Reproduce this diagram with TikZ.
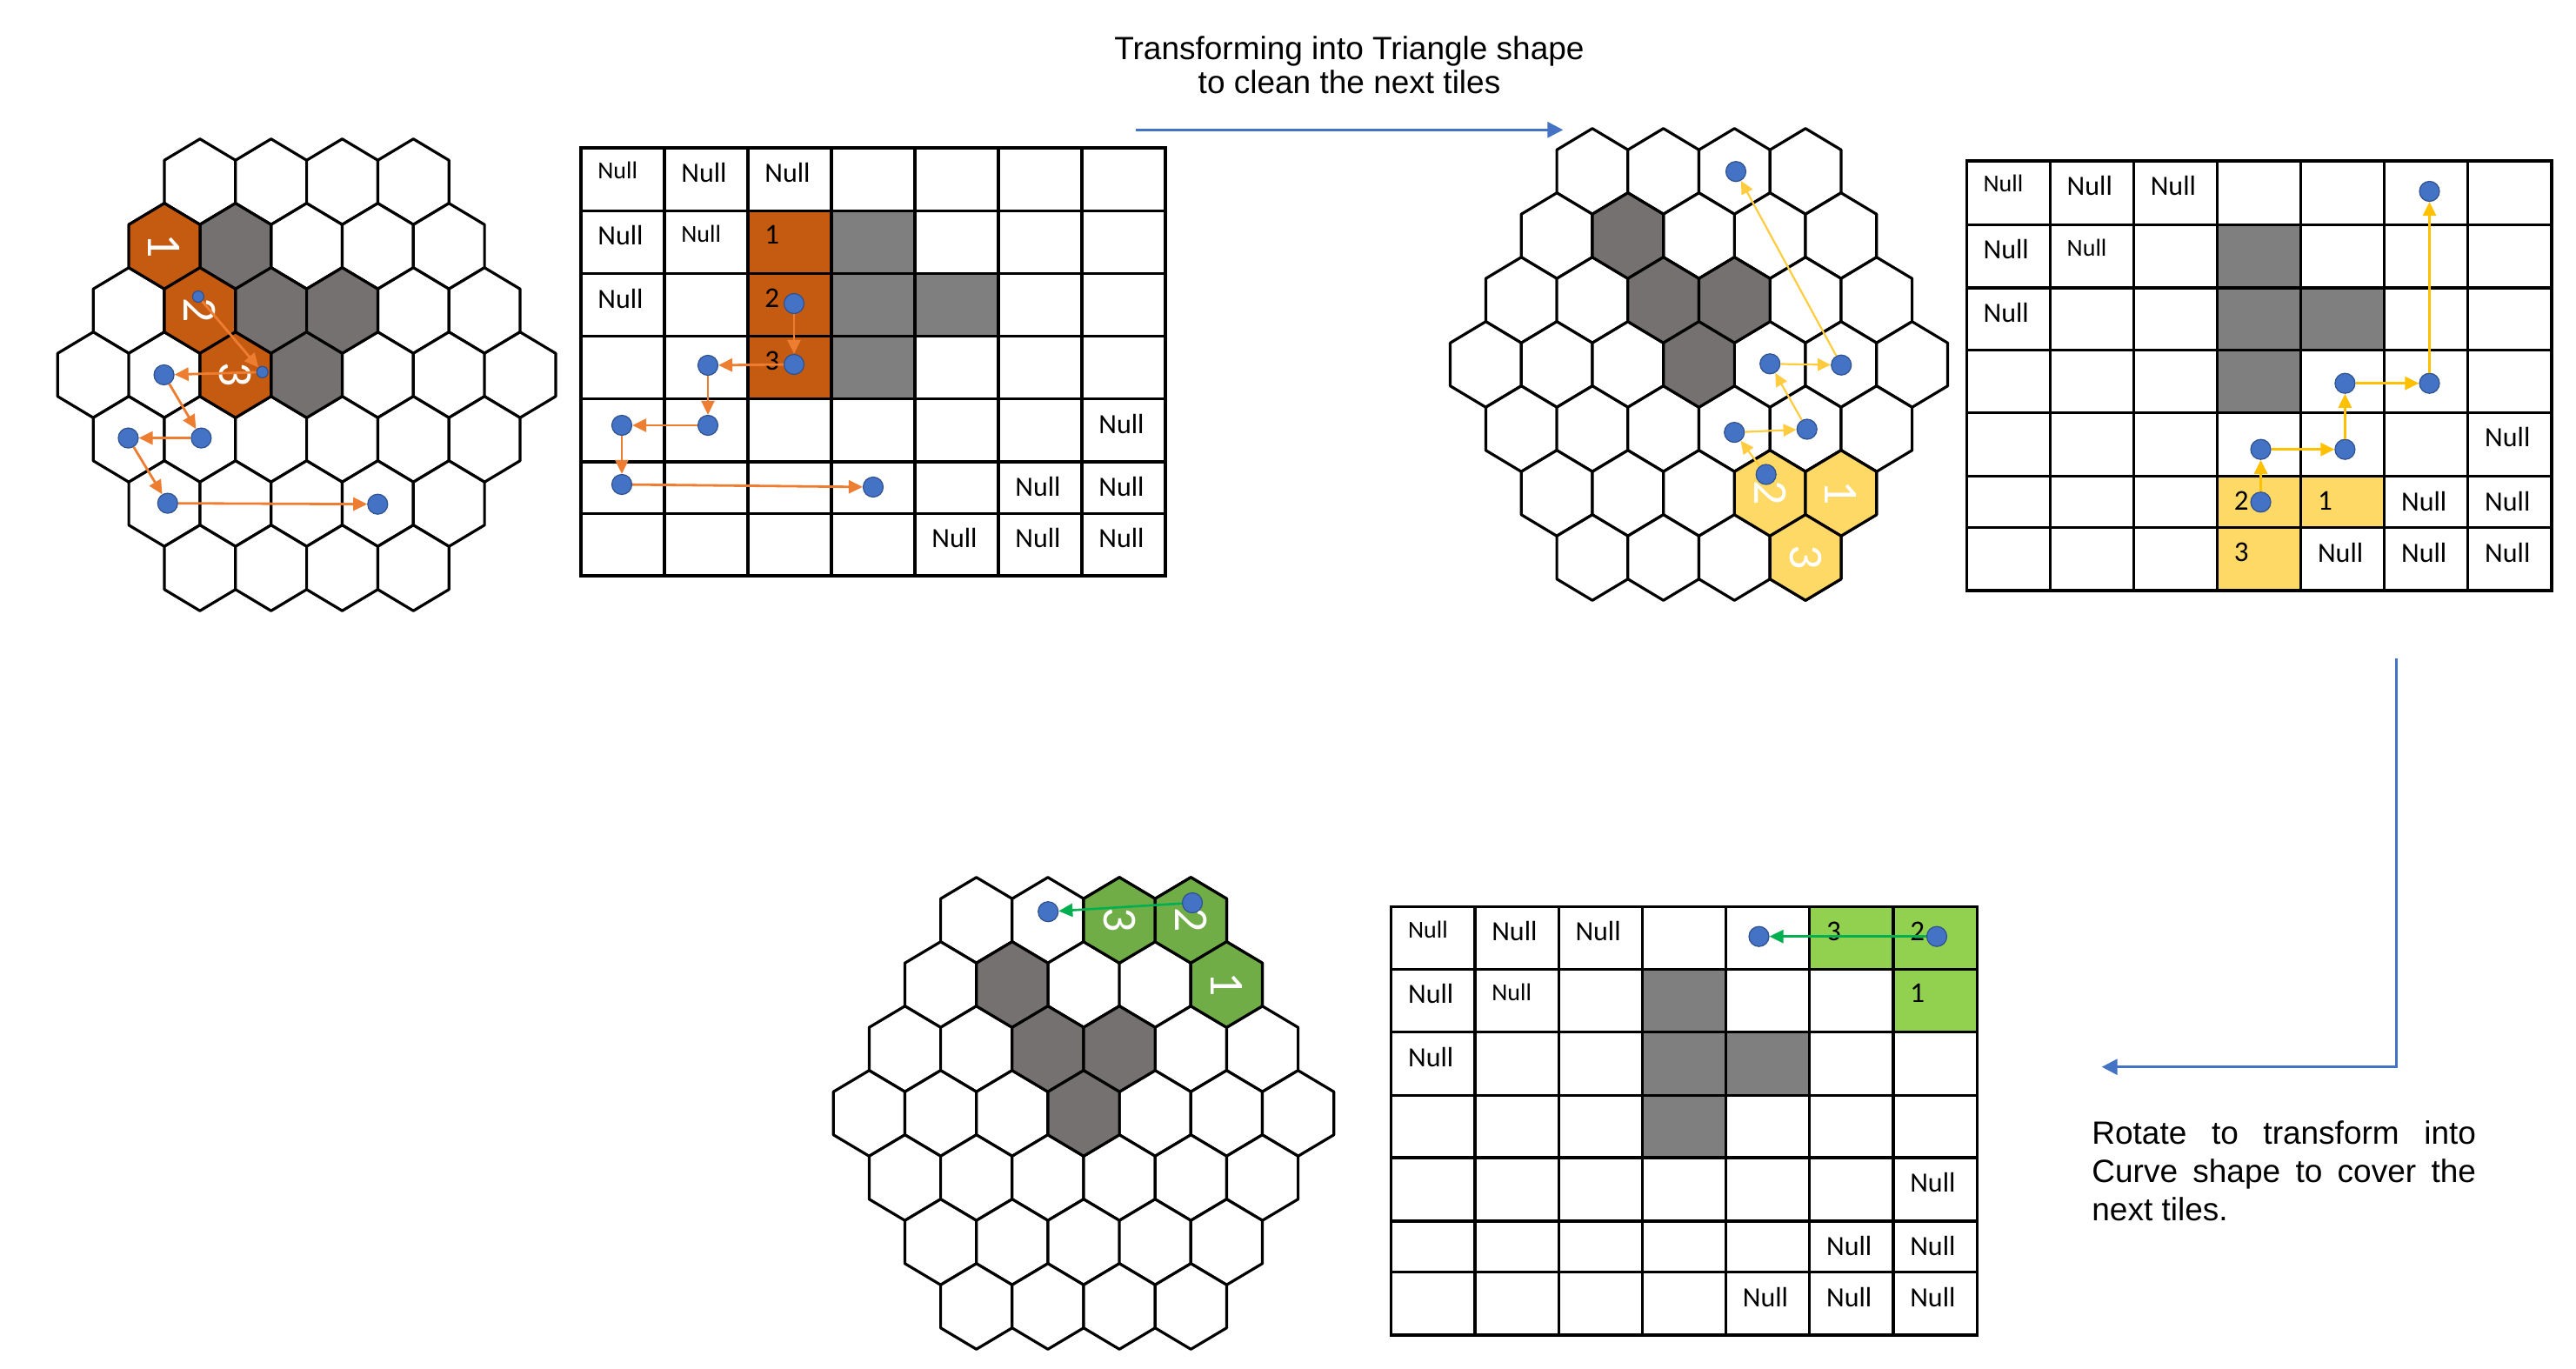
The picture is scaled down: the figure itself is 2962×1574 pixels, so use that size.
\documentclass[tikz,border=0pt]{standalone}
\usepackage{fontspec}
\setmainfont{Liberation Sans}
\newfontfamily\calib{Carlito}
\usetikzlibrary{arrows.meta,calc}

\definecolor{hexgray}{HTML}{767171}
\definecolor{tabgray}{HTML}{7F7F7F}
\definecolor{orangeF}{HTML}{C55A11}
\definecolor{orangeA}{HTML}{ED7D31}
\definecolor{yellowF}{HTML}{FFD966}
\definecolor{yellowA}{HTML}{FFC000}
\definecolor{yellowG}{HTML}{FFCC40}
\definecolor{greenH}{HTML}{70AD47}
\definecolor{greenT}{HTML}{92D050}
\definecolor{greenA}{HTML}{00B050}
\definecolor{dotblue}{HTML}{4472C4}
\definecolor{dotedge}{HTML}{2F528F}

% one hexagon: #1=i, #2=j (axial), #3=style; uses \gcx \gcy \gw \gs \gp
\newcommand\HX[3]{\path[#3] ({\gcx+(#1+(#2)/2)*\gw},{\gcy+(#2)*(\gs+\gp)}) ++(0,{-(\gs/2+\gp)}) -- ++({\gw/2},{\gp}) -- ++(0,{\gs}) -- ++({-\gw/2},{\gp}) -- ++({-\gw/2},{-\gp}) -- ++(0,{-\gs}) -- cycle;}
\newcommand\HC[3]{\coordinate (#1) at ({\gcx+(#2+(#3)/2)*\gw},{\gcy+(#3)*(\gs+\gp)});}
\newcommand\HexGrid{%
  \foreach \j in {-3,...,3}{%
    \foreach \i in {-3,...,3}{%
      \pgfmathtruncatemacro\hk{\i+\j}%
      \ifnum\hk<-3\relax\else\ifnum\hk>3\relax\else\HX{\i}{\j}{hexcell}\fi\fi
    }}}
% table corner coordinates: name-k-m, k = vertical line 0..7, m = horizontal line 1..8
\newcommand\MkTable[4]{%
  \foreach \yy [count=\m] in {#4}{%
    \foreach \k in {0,...,7}{%
      \coordinate (#1-\k-\m) at ({#2+\k*#3},\yy);}}}
\newcommand\TabLines[1]{%
  \foreach \k in {0,...,7}{\draw[tabline] (#1-\k-1) -- (#1-\k-8);}
  \foreach \m in {1,...,8}{\draw[tabline] (#1-0-\m) -- (#1-7-\m);}}
\newcommand\NB[3]{\node[nullbig] (#1-n#2-#3) at ($(#1-#2-#3)+(19,17)$) {Null};}
\newcommand\NS[3]{\node[nullsmall] (#1-n#2-#3) at ($(#1-#2-#3)+(19,16)$) {Null};}
\newcommand\CN[4]{\node[cellnum] (#1-d#2-#3) at ($(#1-#2-#3)+(19,17)$) {#4};}
\newcommand\AllNulls[1]{%
  \NS{#1}{0}{1}\NB{#1}{1}{1}\NB{#1}{2}{1}
  \NB{#1}{0}{2}\NS{#1}{1}{2}
  \NB{#1}{0}{3}
  \NB{#1}{6}{5}
  \NB{#1}{5}{6}\NB{#1}{6}{6}
  \NB{#1}{4}{7}\NB{#1}{5}{7}\NB{#1}{6}{7}}
\newcommand\GrayCells[1]{%
  \fill[tabgray] (#1-3-2) rectangle (#1-4-3);
  \fill[tabgray] (#1-3-3) rectangle (#1-4-4);
  \fill[tabgray] (#1-4-3) rectangle (#1-5-4);
  \fill[tabgray] (#1-3-4) rectangle (#1-4-5);}

\begin{document}
\begin{tikzpicture}[x=0.5pt,y=-0.5pt,
  hexcell/.style={draw=black,line width=1.6pt,fill=white,line join=round},
  hexg/.style={hexcell,fill=hexgray},
  hexo/.style={hexcell,fill=orangeF},
  hexy/.style={hexcell,fill=yellowF},
  hexgr/.style={hexcell,fill=greenH},
  hexnum/.style={text=white,rotate=-90,inner sep=0pt,font=\calib\fontsize{28}{30}\selectfont},
  tabline/.style={draw=black,line width=1.6pt,line cap=rect},
  nullbig/.style={anchor=north west,inner sep=0pt,font=\calib\fontsize{16}{19}\selectfont},
  nullsmall/.style={anchor=north west,inner sep=0pt,font=\calib\fontsize{14}{16}\selectfont},
  cellnum/.style={anchor=north west,inner sep=0pt,font=\calib\fontsize{16.5}{19}\selectfont},
  dot/.style={circle,fill=dotblue,draw=dotedge,line width=0.6pt,minimum size=11.5pt,inner sep=0pt},
  sdot/.style={dot,minimum size=6.5pt},
  oarr/.style={draw=orangeA,line width=1.4pt,-{Triangle[length=8pt,width=7.5pt]}},
  yarr/.style={draw=yellowA,line width=1.4pt,-{Triangle[length=8pt,width=7.5pt]}},
  yarrg/.style={draw=yellowG,line width=1.1pt,-{Triangle[length=7.5pt,width=7pt]}},
  garr/.style={draw=greenA,line width=1.3pt,-{Triangle[length=8pt,width=7.5pt]}},
  barr/.style={draw=dotblue,line width=1.5pt,-{Triangle[length=9pt,width=9pt]}},
  titletext/.style={inner sep=0pt,font=\fontsize{18.5}{22}\selectfont},
]
\fill[white] (0,0) rectangle (2962,1574);
\useasboundingbox (0,0) rectangle (2962,1574);

% ================= Grid 1 =================
\def\gcx{352.6}\def\gcy{431}\def\gw{81.8}\def\gs{49.5}\def\gp{24.5}
\HexGrid
\HX{0}{-2}{hexg}\HX{0}{-1}{hexg}\HX{1}{-1}{hexg}\HX{0}{0}{hexg}
\HX{-1}{-2}{hexo}\HX{-1}{-1}{hexo}\HX{-1}{0}{hexo}
\HC{g1c1}{-1}{-2}\HC{g1c2}{-1}{-1}\HC{g1c3}{-1}{0}
\node[hexnum] (g1l1) at (g1c1) {1};
\node[hexnum] (g1l2) at (g1c2) {2};
\node[hexnum] (g1l3) at (g1c3) {3};
\node[sdot] (g1d1) at (227.9,341) {};
\node[sdot] (g1d2) at (301.7,427.8) {};
\node[dot] (g1d3) at (188.6,431) {};
\node[dot] (g1d4) at (231.4,503.6) {};
\node[dot] (g1d5) at (147.5,503.6) {};
\node[dot] (g1d6) at (192.8,578.6) {};
\node[dot] (g1d7) at (434.3,579.7) {};
\draw[oarr] (g1d1) -- (g1d2);
\draw[oarr] (g1d2) -- (g1d3);
\draw[oarr] (g1d3) -- (g1d4);
\draw[oarr] (g1d4) -- (g1d5);
\draw[oarr] (g1d5) -- (g1d6);
\draw[oarr] (g1d6) -- (g1d7);

% ================= Table 1 =================
\MkTable{T1}{668}{96}{170,242.2,314.4,386.6,458.8,531,590.3,662}
\fill[orangeF] (T1-2-2) rectangle (T1-3-3);
\fill[orangeF] (T1-2-3) rectangle (T1-3-4);
\fill[orangeF] (T1-2-4) rectangle (T1-3-5);
\GrayCells{T1}
\TabLines{T1}
\AllNulls{T1}
\CN{T1}{2}{2}{1}\CN{T1}{2}{3}{2}\CN{T1}{2}{4}{3}
\node[dot] (t1d1) at (913,349) {};
\node[dot] (t1d2) at (913,419) {};
\node[dot] (t1d3) at (814,420) {};
\node[dot] (t1d4) at (814,489) {};
\node[dot] (t1d5) at (715,489) {};
\node[dot] (t1d6) at (715,557) {};
\node[dot] (t1d7) at (1004,560) {};
\draw[oarr] (t1d1) -- (t1d2);
\draw[oarr] (t1d2) -- (t1d3);
\draw[oarr] (t1d3) -- (t1d4);
\draw[oarr] (t1d4) -- (t1d5);
\draw[oarr] (t1d5) -- (t1d6);
\draw[oarr] (t1d6) -- (t1d7);

% ================= Title + arrow =================
\node[titletext,anchor=base] (title1) at (1551.5,68.3) {Transforming into Triangle shape};
\node[titletext,anchor=base] (title2) at (1551.5,107.5) {to clean the next tiles};
\coordinate (ta0) at (1306.4,149.3);
\coordinate (ta1) at (1797.3,149.3);
\draw[barr] (ta0) -- (ta1);

% ================= Grid 2 =================
\def\gcx{1953.5}\def\gcy{419}\def\gw{81.7}
\HexGrid
\HX{0}{-2}{hexg}\HX{0}{-1}{hexg}\HX{1}{-1}{hexg}\HX{0}{0}{hexg}
\HX{0}{2}{hexy}\HX{1}{2}{hexy}\HX{0}{3}{hexy}
\HC{g2c2}{0}{2}\HC{g2c1}{1}{2}\HC{g2c3}{0}{3}
\node[hexnum] (g2l2) at (g2c2) {2};
\node[hexnum] (g2l1) at (g2c1) {1};
\node[hexnum] (g2l3) at (g2c3) {3};
\node[dot] (g2d1) at (2030.7,545.5) {};
\node[dot] (g2d2) at (1994.2,497.1) {};
\node[dot] (g2d3) at (2077.7,493.5) {};
\node[dot] (g2d4) at (2035.2,418.3) {};
\node[dot] (g2d5) at (2117.2,419.7) {};
\node[dot] (g2d6) at (1996,197.2) {};
\draw[yarrg] (g2d1) -- (g2d2);
\draw[yarrg] (g2d2) -- (g2d3);
\draw[yarrg] (g2d3) -- (g2d4);
\draw[yarrg] (g2d4) -- (g2d5);
\draw[yarrg] (g2d5) -- (g2d6);

% ================= Table 2 =================
\MkTable{T2}{2261.2}{96.1}{185,258.3,331,402.3,474.3,547.7,606.7,679}
\fill[yellowF] (T2-3-6) rectangle (T2-4-7);
\fill[yellowF] (T2-4-6) rectangle (T2-5-7);
\fill[yellowF] (T2-3-7) rectangle (T2-4-8);
\GrayCells{T2}
\TabLines{T2}
\AllNulls{T2}
\CN{T2}{3}{6}{2}\CN{T2}{4}{6}{1}\CN{T2}{3}{7}{3}
\node[dot] (t2d1) at (2599.5,577.3) {};
\node[dot] (t2d2) at (2599.5,516.7) {};
\node[dot] (t2d3) at (2696.4,516.7) {};
\node[dot] (t2d4) at (2696.4,440.7) {};
\node[dot] (t2d5) at (2793.5,440.7) {};
\node[dot] (t2d6) at (2793.5,220) {};
\draw[yarr] (t2d1) -- (t2d2);
\draw[yarr] (t2d2) -- (t2d3);
\draw[yarr] (t2d3) -- (t2d4);
\draw[yarr] (t2d4) -- (t2d5);
\draw[yarr] (t2d5) -- (t2d6);

% ================= Elbow arrow + side text =================
\coordinate (eb0) at (2755.7,757.3);
\coordinate (eb1) at (2416.7,1226.7);
\draw[barr] (eb0) |- (eb1);
\node[titletext,anchor=base west] (side1) at (2405,1315) {\makebox[220.8pt][s]{Rotate to transform into}};
\node[titletext,anchor=base west] (side2) at (2405,1359) {\makebox[220.8pt][s]{Curve shape to cover the}};
\node[titletext,anchor=base west] (side3) at (2405,1403) {next tiles.};

% ================= Grid 3 =================
\def\gcx{1246}\def\gcy{1280}\def\gw{82.2}
\HexGrid
\HX{0}{-2}{hexg}\HX{0}{-1}{hexg}\HX{1}{-1}{hexg}\HX{0}{0}{hexg}
\HX{2}{-3}{hexgr}\HX{3}{-3}{hexgr}\HX{3}{-2}{hexgr}
\HC{g3c3}{2}{-3}\HC{g3c2}{3}{-3}\HC{g3c1}{3}{-2}
\node[hexnum] (g3l3) at (g3c3) {3};
\node[hexnum] (g3l2) at (g3c2) {2};
\node[hexnum] (g3l1) at (g3c1) {1};
\node[dot] (g3d1) at (1371,1038) {};
\node[dot] (g3d2) at (1205.2,1048.2) {};
\draw[garr] (g3d1) -- (g3d2);

% ================= Table 3 =================
\MkTable{T3}{1599.7}{96.2}{1042.3,1114.3,1186.7,1259.3,1331,1404,1462.7,1535}
\fill[greenT] (T3-5-1) rectangle (T3-6-2);
\fill[greenT] (T3-6-1) rectangle (T3-7-2);
\fill[greenT] (T3-6-2) rectangle (T3-7-3);
\GrayCells{T3}
\TabLines{T3}
\AllNulls{T3}
\CN{T3}{5}{1}{3}\CN{T3}{6}{1}{2}\CN{T3}{6}{2}{1}
\node[dot] (t3d1) at (2227,1076.7) {};
\node[dot] (t3d2) at (2022.5,1076.7) {};
\draw[garr] (t3d1) -- (t3d2);
\end{tikzpicture}
\end{document}
